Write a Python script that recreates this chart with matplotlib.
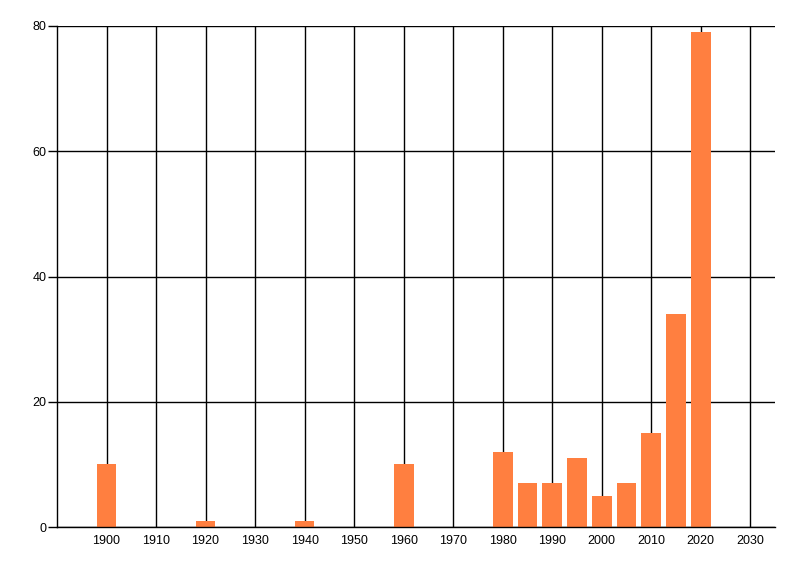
import matplotlib
matplotlib.use("Agg")
import matplotlib.pyplot as plt

# bars every 5 years from 1980 on, sparse before
years = [1900, 1920, 1940, 1960, 1980, 1985, 1990, 1995, 2000, 2005, 2010, 2015, 2020]
counts = [10, 1, 1, 10, 12, 7, 7, 11, 5, 7, 15, 34, 79]
xticks = list(range(1900, 2031, 10))
yticks = [0, 20, 40, 60, 80]

plt.rcParams['font.family'] = ['Liberation Sans', 'DejaVu Sans']

fig = plt.figure(figsize=(8, 5.76), dpi=100)
ax = fig.add_axes([57/800, 1 - 527/576, (775 - 57)/800, (527 - 26)/576])

ax.bar(years, counts, width=4, color='#FF7F40', zorder=3)

ax.set_xlim(1890, 2035)
ax.set_ylim(0, 80)
ax.set_xticks(xticks)
ax.set_yticks(yticks)
ax.tick_params(labelsize=9, width=1, color='black')
ax.tick_params(axis='x', length=0, pad=6)
ax.tick_params(axis='y', length=6.5, pad=1)
ax.grid(True, color='black', linewidth=1, zorder=1)

for s in ['top', 'right']:
    ax.spines[s].set_visible(False)
for s in ['left', 'bottom']:
    ax.spines[s].set_linewidth(1)
    ax.spines[s].set_zorder(4)

fig.savefig("out.png", dpi=100)
